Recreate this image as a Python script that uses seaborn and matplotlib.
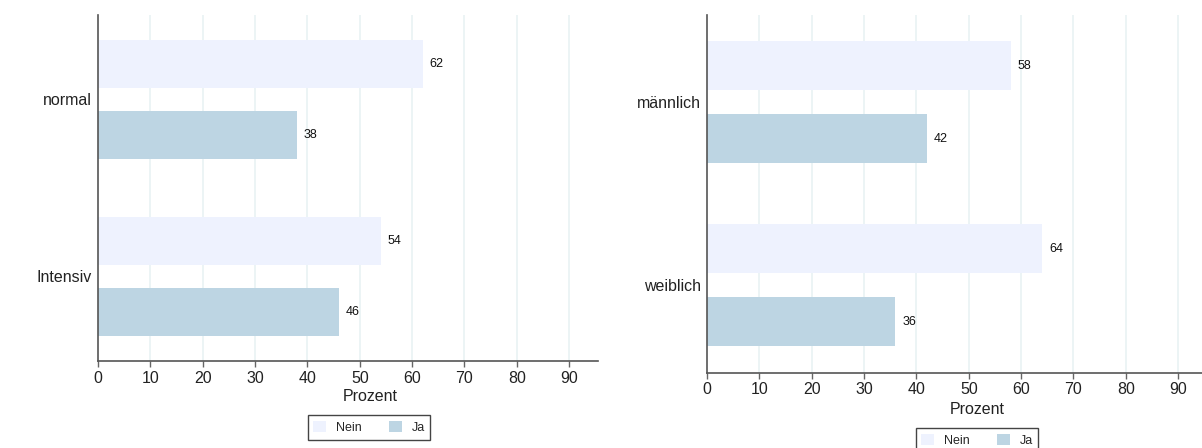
import matplotlib
matplotlib.use("Agg")
import matplotlib.pyplot as plt
import seaborn as sns
import pandas as pd
from matplotlib.patches import Patch

# ---- data ----
left_categories = ["normal", "Intensiv"]
left_nein = [62, 54]
left_ja = [38, 46]

right_categories = ["männlich", "weiblich"]
right_nein = [58, 64]
right_ja = [42, 36]

answers = ["Nein", "Ja"]
xticks = [0, 10, 20, 30, 40, 50, 60, 70, 80, 90]
x_label = "Prozent"

colors = {"Nein": "#EEF2FE", "Ja": "#BDD5E3"}

sns.set_theme(style="white")
plt.rcParams["font.family"] = ["Liberation Sans", "DejaVu Sans"]


def long_df(cats, nein, ja):
    rows = []
    for c, n, j in zip(cats, nein, ja):
        rows.append({"Gruppe": c, "Antwort": "Nein", "Prozent": n})
        rows.append({"Gruppe": c, "Antwort": "Ja", "Prozent": j})
    return pd.DataFrame(rows)


W, H = 1202, 448
fig = plt.figure(figsize=(W / 100, H / 100), dpi=100)
fig.patch.set_facecolor("white")


def px_axes(x0, y_top, x1, y_bot):
    return fig.add_axes([x0 / W, 1 - y_bot / H, (x1 - x0) / W, (y_bot - y_top) / H])


def draw_panel(ax, df, cats, lab_x, lab_y):
    sns.barplot(data=df, y="Gruppe", x="Prozent", hue="Antwort", order=cats,
                hue_order=answers, palette=colors, orient="h", gap=0.327,
                width=0.8, linewidth=0, saturation=1, ax=ax, legend=False, zorder=2)
    ax.set_xlim(0, 95.5)
    ax.set_ylim(1.478, -0.477)
    ax.set_xticks(xticks)
    ax.set_xticklabels([str(t) for t in xticks], fontsize=11.5, color="#222222")
    ax.set_ylabel("")
    ax.set_xlabel(x_label, fontsize=11.5, color="#222222")
    ax.xaxis.set_label_coords(lab_x, lab_y)
    ax.xaxis.label.set_verticalalignment("center")
    for t in ax.get_yticklabels():
        t.set_fontsize(11.5)
        t.set_color("#222222")
    ax.tick_params(axis="y", length=0, pad=4.5)
    ax.tick_params(axis="x", length=4, width=1, color="#666666", pad=3,
                   direction="out", bottom=True)
    for s in ["top", "right"]:
        ax.spines[s].set_visible(False)
    for s in ["left", "bottom"]:
        ax.spines[s].set_color("#555555")
        ax.spines[s].set_linewidth(1.2)
        ax.spines[s].set_zorder(5)
    for t in xticks[1:]:
        ax.axvline(t, color="#EAF3F4", linewidth=1.3, zorder=0)
    ax.set_facecolor("white")
    for cont in ax.containers:
        ax.bar_label(cont, fmt="%g", padding=5, fontsize=9, color="#111111")


axL = px_axes(98, 15, 598, 361)
draw_panel(axL, long_df(left_categories, left_nein, left_ja), left_categories,
           0.544, -0.104)

axR = px_axes(707, 15, 1207, 372.7)
draw_panel(axR, long_df(right_categories, right_nein, right_ja), right_categories,
           0.54, -0.1015)

handles = [Patch(facecolor=colors[a], edgecolor="none", label=a) for a in answers]
for cx, cy in [(369, 427.5), (977, 440.5)]:
    fig.legend(handles=handles, loc="center", bbox_to_anchor=(cx / W, 1 - cy / H),
               ncol=2, frameon=True, fontsize=9, handlelength=1.0, handleheight=1.0,
               columnspacing=2.2, handletextpad=0.8, borderpad=0.45,
               fancybox=False, edgecolor="#444444", framealpha=1)

fig.savefig("out.png", dpi=100, facecolor="white")
